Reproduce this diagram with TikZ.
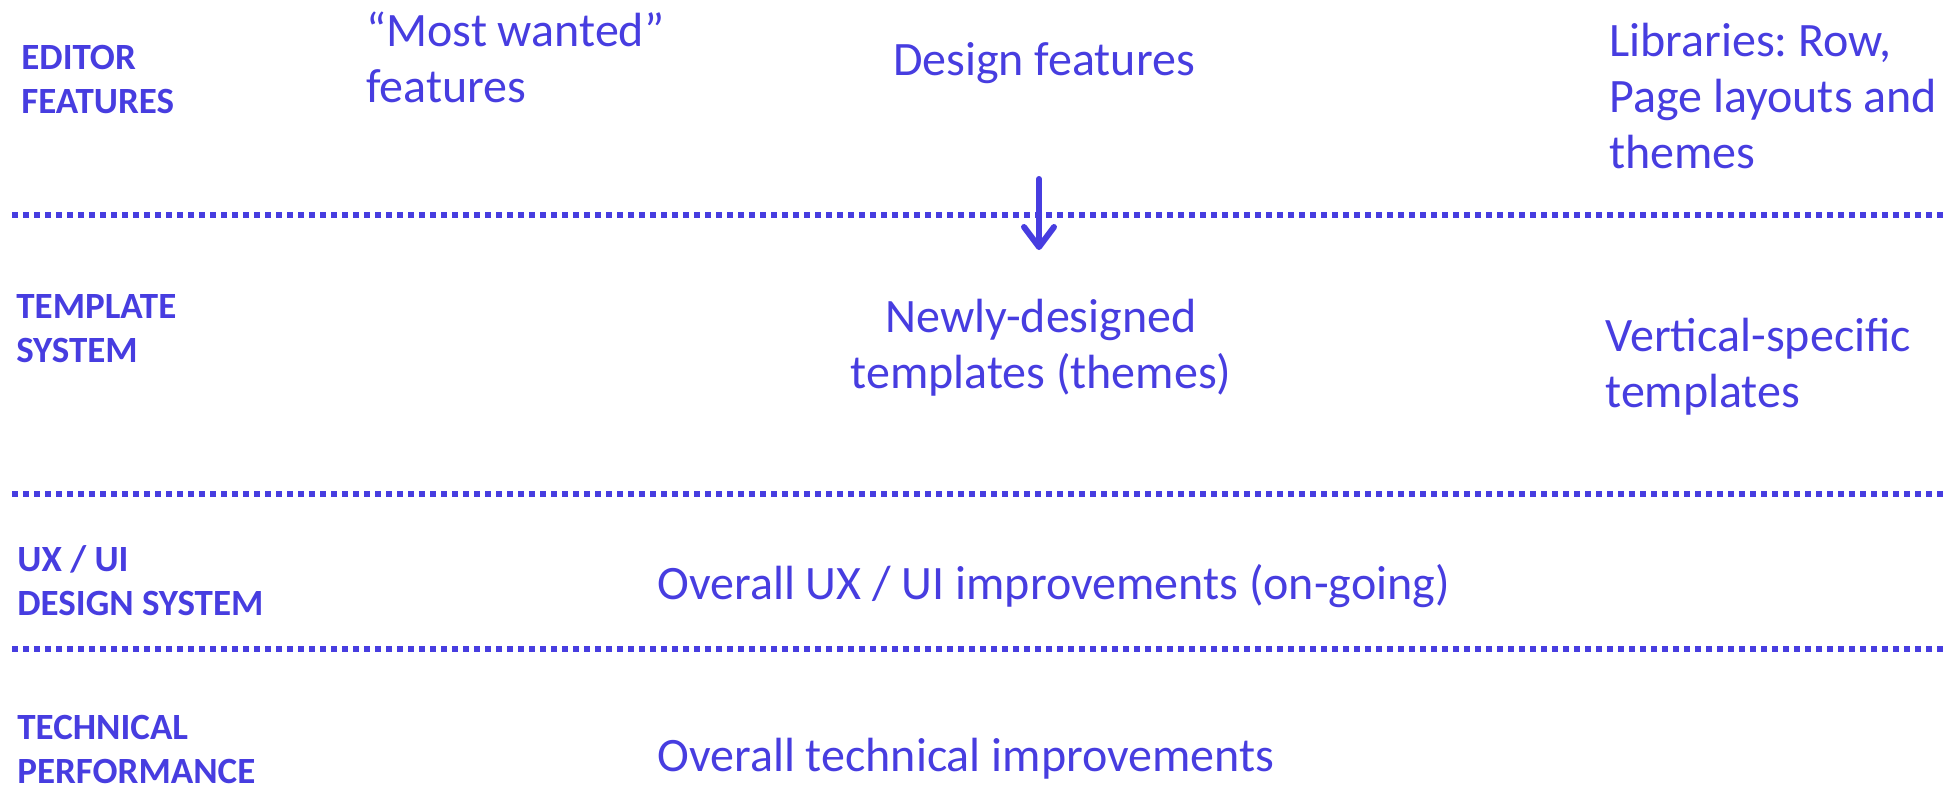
\documentclass[tikz,border=0pt]{standalone}
\usepackage{fontspec}
\setmainfont{Carlito}
\usetikzlibrary{arrows.meta}
\frenchspacing

\definecolor{ink}{RGB}{71,61,224}

% multi-line nodes sit on the baseline of their last line
\tikzset{
  rowlabel/.style={font=\fontsize{18.5pt}{22pt}\selectfont\bfseries, text=ink,
                   align=left, anchor=base west, inner sep=0pt},
  item/.style={font=\fontsize{24pt}{28pt}\selectfont, text=ink,
               align=left, anchor=base west, inner sep=0pt},
  citem/.style={item, align=center, anchor=base},
  rowrule/.style={draw=ink, line width=2.8pt, dash pattern=on 3pt off 2.5pt},
  flow/.style={draw=ink, line width=3pt, line cap=round,
               -{Straight Barb[length=10pt,width=15pt,round]}},
}

\begin{document}
\begin{tikzpicture}[x=0.5pt, y=-0.5pt]
  \useasboundingbox (0,0) rectangle (1945,789);

  % row labels
  \node[rowlabel] (lab1) at (21,113) {EDITOR\\FEATURES};
  \node[rowlabel] (lab2) at (16,362) {TEMPLATE\\SYSTEM};
  \node[rowlabel] (lab3) at (17,615) {UX / UI\\DESIGN SYSTEM};
  \node[rowlabel] (lab4) at (17,783) {TECHNICAL\\PERFORMANCE};

  % editor features row
  \node[item]  (wanted) at (366,102)  {“Most wanted”\\features};
  \node[citem] (design) at (1044,75)  {Design features};
  \node[item]  (libs)   at (1609,168) {Libraries: Row,\\Page layouts and\\themes};

  % template system row
  \node[citem] (newtpl)  at (1041,388) {Newly-designed\\templates (themes)};
  \node[item]  (verttpl) at (1605,407) {Vertical-specific\\templates};

  % design system and performance rows
  \node[item] (uxui) at (657,599) {Overall UX / UI improvements (on-going)};
  \node[item] (tech) at (657,771) {Overall technical improvements};

  % dotted separators between rows
  \draw[rowrule] (12,215) -- (1945,215);
  \draw[rowrule] (12,494) -- (1945,494);
  \draw[rowrule] (12,649) -- (1945,649);

  % design features feed the template system
  \coordinate (arrtop) at (1039,179);
  \coordinate (arrtip) at (1039,250);
  \draw[flow] (arrtop) -- (arrtip);
\end{tikzpicture}
\end{document}
